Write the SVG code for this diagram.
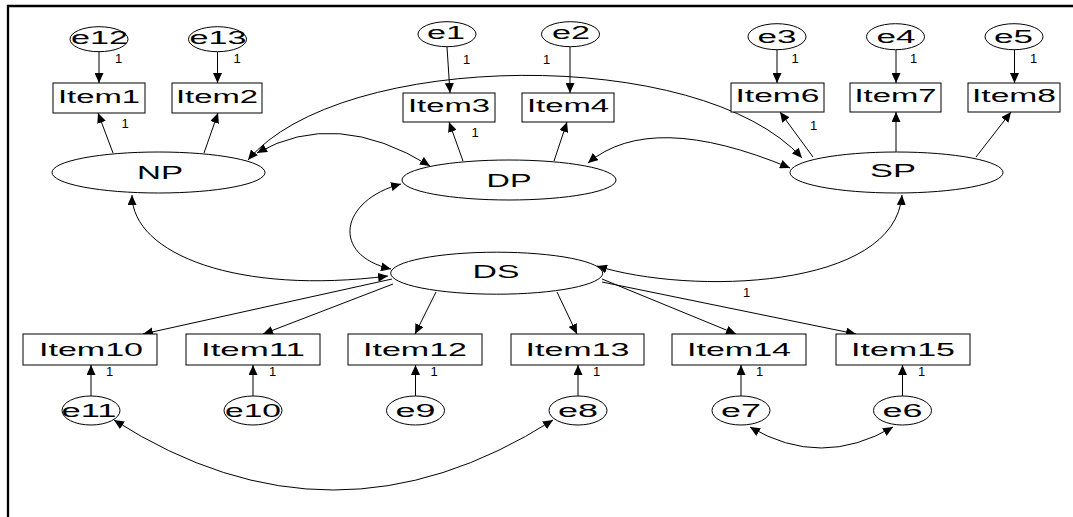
<svg xmlns="http://www.w3.org/2000/svg" width="1073" height="517" viewBox="0 0 1073 517">
<style>
.box{fill:#fff;stroke:#000;stroke-width:1}
.ell{fill:#fff;stroke:#000;stroke-width:1}
.t{font-family:"Liberation Sans",Arial,sans-serif;fill:#000;text-anchor:middle}
.it{font-size:18px}
.lt{font-size:19px}
.et{font-size:18px}
.w{font-family:"Liberation Sans",Arial,sans-serif;font-size:13px;fill:#000;text-anchor:middle}
.c{fill:none;stroke:#000;stroke-width:1}
.a{marker-end:url(#ah)}
.d{marker-start:url(#ah);marker-end:url(#ah)}
</style>
<defs>
<marker id="ah" viewBox="0 0 10 9" refX="10" refY="4.5" markerWidth="10" markerHeight="9" markerUnits="userSpaceOnUse" orient="auto-start-reverse">
<path d="M0,0 L10,4.5 L0,9 z" fill="#000"/>
</marker>
</defs>
<rect width="1073" height="517" fill="#fff"/>
<g id="frame">
<line x1="7" y1="6" x2="1073" y2="6" stroke="#000" stroke-width="2.5"/>
<line x1="8" y1="5" x2="8" y2="517" stroke="#000" stroke-width="2.3"/>
</g>
<g id="connectors">
<path class="c d" d="M248,160 C340,50 700,45 802,158"/>
<path class="c d" d="M257,153 Q336,108 430,166"/>
<path class="c d" d="M588,163 Q651,110 790,168"/>
<path class="c d" d="M401,184 C340,200 330,255 391,269"/>
<path class="c d" d="M132,195 C132,255 240,295 388,276"/>
<path class="c d" d="M597,266 C690,295 895,290 902,195"/>
<path class="c d" d="M114,420 Q333,560 553,420"/>
<path class="c d" d="M750,427 Q821,469 893,427"/>
<line class="c a" x1="99" y1="52" x2="99" y2="83"/>
<line class="c a" x1="217.5" y1="52" x2="217.5" y2="83"/>
<line class="c a" x1="447" y1="47" x2="450" y2="93"/>
<line class="c a" x1="570" y1="47" x2="570" y2="93"/>
<line class="c a" x1="777" y1="50" x2="777" y2="83"/>
<line class="c a" x1="896" y1="50" x2="896" y2="83"/>
<line class="c a" x1="1014.5" y1="50" x2="1014.5" y2="83"/>
<line class="c a" x1="113" y1="153" x2="98" y2="113"/>
<line class="c a" x1="204" y1="153" x2="218" y2="113"/>
<line class="c a" x1="463" y1="161" x2="449" y2="122"/>
<line class="c a" x1="554" y1="161" x2="567" y2="122"/>
<line class="c a" x1="813" y1="157" x2="780" y2="112"/>
<line class="c a" x1="896" y1="152" x2="896" y2="112"/>
<line class="c a" x1="976" y1="157" x2="1011" y2="112"/>
<line class="c a" x1="392" y1="279" x2="143" y2="334"/>
<line class="c a" x1="393" y1="284" x2="263" y2="334"/>
<line class="c a" x1="436" y1="292" x2="415" y2="334"/>
<line class="c a" x1="557" y1="292" x2="577" y2="334"/>
<line class="c a" x1="602" y1="279" x2="736" y2="334"/>
<line class="c a" x1="602" y1="282" x2="856" y2="334"/>
<line class="c a" x1="91" y1="396" x2="91" y2="365"/>
<line class="c a" x1="253" y1="396" x2="253" y2="365"/>
<line class="c a" x1="415.5" y1="396" x2="415.5" y2="365"/>
<line class="c a" x1="578" y1="396" x2="578" y2="365"/>
<line class="c a" x1="741" y1="396" x2="741" y2="365"/>
<line class="c a" x1="902.5" y1="396" x2="902.5" y2="365"/>
<text class="w" x="118.5" y="63">1</text>
<text class="w" x="237" y="63">1</text>
<text class="w" x="125" y="128">1</text>
<text class="w" x="466.5" y="64">1</text>
<text class="w" x="546.5" y="64">1</text>
<text class="w" x="475" y="137">1</text>
<text class="w" x="795" y="63">1</text>
<text class="w" x="913.5" y="63">1</text>
<text class="w" x="1033.5" y="63">1</text>
<text class="w" x="813.5" y="130">1</text>
<text class="w" x="109.5" y="376">1</text>
<text class="w" x="272.5" y="376">1</text>
<text class="w" x="434" y="376">1</text>
<text class="w" x="596.5" y="376">1</text>
<text class="w" x="759.5" y="376">1</text>
<text class="w" x="921.5" y="376">1</text>
<text class="w" x="746.5" y="297">1</text>
</g>
<g id="e12"><ellipse class="ell" cx="99" cy="39.2" rx="29" ry="12.5"/><text class="t et" x="99.5" y="44.3" textLength="57" lengthAdjust="spacingAndGlyphs">e12</text></g>
<g id="e13"><ellipse class="ell" cx="217.5" cy="39.2" rx="29" ry="12.5"/><text class="t et" x="218" y="44.3" textLength="57" lengthAdjust="spacingAndGlyphs">e13</text></g>
<g id="e1"><ellipse class="ell" cx="447" cy="34.2" rx="29" ry="12.5"/><text class="t et" x="446" y="39" textLength="38" lengthAdjust="spacingAndGlyphs">e1</text></g>
<g id="e2"><ellipse class="ell" cx="570.5" cy="34.2" rx="29" ry="12.5"/><text class="t et" x="571" y="39" textLength="38" lengthAdjust="spacingAndGlyphs">e2</text></g>
<g id="e3"><ellipse class="ell" cx="777" cy="36.7" rx="29" ry="13"/><text class="t et" x="777" y="42.5" textLength="39" lengthAdjust="spacingAndGlyphs">e3</text></g>
<g id="e4"><ellipse class="ell" cx="895.5" cy="36.7" rx="29" ry="13"/><text class="t et" x="896" y="42.5" textLength="39" lengthAdjust="spacingAndGlyphs">e4</text></g>
<g id="e5"><ellipse class="ell" cx="1014" cy="36.7" rx="29" ry="13"/><text class="t et" x="1013.5" y="42.5" textLength="39" lengthAdjust="spacingAndGlyphs">e5</text></g>
<g id="Item1"><rect class="box" x="53" y="83" width="92" height="30"/><text class="t it" x="99" y="102.5" textLength="82" lengthAdjust="spacingAndGlyphs">Item1</text></g>
<g id="Item2"><rect class="box" x="172" y="83" width="90" height="30"/><text class="t it" x="217" y="102.5" textLength="82" lengthAdjust="spacingAndGlyphs">Item2</text></g>
<g id="Item3"><rect class="box" x="403" y="93" width="92" height="29"/><text class="t it" x="449" y="111.7" textLength="82" lengthAdjust="spacingAndGlyphs">Item3</text></g>
<g id="Item4"><rect class="box" x="522" y="93" width="92" height="29"/><text class="t it" x="568" y="111.7" textLength="82" lengthAdjust="spacingAndGlyphs">Item4</text></g>
<g id="Item6"><rect class="box" x="731" y="83" width="93" height="29"/><text class="t it" x="777.5" y="101.7" textLength="84" lengthAdjust="spacingAndGlyphs">Item6</text></g>
<g id="Item7"><rect class="box" x="850" y="83" width="91" height="29"/><text class="t it" x="895.5" y="101.7" textLength="82" lengthAdjust="spacingAndGlyphs">Item7</text></g>
<g id="Item8"><rect class="box" x="968" y="83" width="92" height="29"/><text class="t it" x="1014" y="101.7" textLength="84" lengthAdjust="spacingAndGlyphs">Item8</text></g>
<g id="NP"><ellipse class="ell" cx="158.5" cy="172.5" rx="106.5" ry="20.5"/><text class="t lt" x="160" y="178.5" textLength="46" lengthAdjust="spacingAndGlyphs">NP</text></g>
<g id="DP"><ellipse class="ell" cx="509" cy="180" rx="107" ry="20"/><text class="t lt" x="509" y="187" textLength="45" lengthAdjust="spacingAndGlyphs">DP</text></g>
<g id="SP"><ellipse class="ell" cx="896.5" cy="172.5" rx="106.5" ry="20.5"/><text class="t lt" x="893" y="177" textLength="46" lengthAdjust="spacingAndGlyphs">SP</text></g>
<g id="DS"><ellipse class="ell" cx="496.7" cy="273.2" rx="106" ry="21"/><text class="t lt" x="496" y="278.3" textLength="47" lengthAdjust="spacingAndGlyphs">DS</text></g>
<g id="Item10"><rect class="box" x="23" y="334" width="134" height="31"/><text class="t lt" x="91" y="355.7" textLength="104" lengthAdjust="spacingAndGlyphs">Item10</text></g>
<g id="Item11"><rect class="box" x="186" y="334" width="134" height="31"/><text class="t lt" x="253" y="355.7" textLength="104" lengthAdjust="spacingAndGlyphs">Item11</text></g>
<g id="Item12"><rect class="box" x="348" y="334" width="134" height="31"/><text class="t lt" x="415" y="355.7" textLength="104" lengthAdjust="spacingAndGlyphs">Item12</text></g>
<g id="Item13"><rect class="box" x="511" y="334" width="133" height="31"/><text class="t lt" x="577.5" y="355.7" textLength="104" lengthAdjust="spacingAndGlyphs">Item13</text></g>
<g id="Item14"><rect class="box" x="672" y="334" width="134" height="31"/><text class="t lt" x="739" y="355.7" textLength="104" lengthAdjust="spacingAndGlyphs">Item14</text></g>
<g id="Item15"><rect class="box" x="836" y="334" width="134" height="31"/><text class="t lt" x="903" y="355.7" textLength="104" lengthAdjust="spacingAndGlyphs">Item15</text></g>
<g id="e11"><ellipse class="ell" cx="91" cy="410.5" rx="29" ry="14.5"/><text class="t et" x="89" y="417.3" textLength="55" lengthAdjust="spacingAndGlyphs">e11</text></g>
<g id="e10"><ellipse class="ell" cx="253" cy="410.5" rx="29" ry="14.5"/><text class="t et" x="253" y="417.3" textLength="56" lengthAdjust="spacingAndGlyphs">e10</text></g>
<g id="e9"><ellipse class="ell" cx="415.5" cy="410.5" rx="29" ry="14.5"/><text class="t et" x="415.5" y="417.3" textLength="40" lengthAdjust="spacingAndGlyphs">e9</text></g>
<g id="e8"><ellipse class="ell" cx="578" cy="410.5" rx="29" ry="14.5"/><text class="t et" x="578" y="417.3" textLength="40" lengthAdjust="spacingAndGlyphs">e8</text></g>
<g id="e7"><ellipse class="ell" cx="741" cy="410.5" rx="29" ry="14.5"/><text class="t et" x="741" y="417.3" textLength="40" lengthAdjust="spacingAndGlyphs">e7</text></g>
<g id="e6"><ellipse class="ell" cx="902.5" cy="410.5" rx="29" ry="14.5"/><text class="t et" x="902.5" y="417.3" textLength="40" lengthAdjust="spacingAndGlyphs">e6</text></g>
</svg>
